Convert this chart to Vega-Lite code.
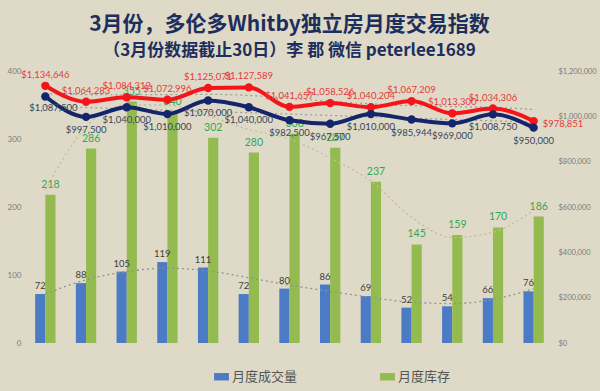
{
  "$schema": "https://vega.github.io/schema/vega-lite/v6.json",
  "width": 529,
  "height": 272,
  "autosize": "none",
  "padding": {"left": 25, "top": 71, "right": 46, "bottom": 48},
  "background": "#dedac7",
  "config": {"view": {"stroke": null}, "font": "Lato"},
  "title": {
    "text": "3月份，多伦多Whitby独立房月度交易指数",
    "subtitle": "（3月份数据截止30日）李 郡 微信 peterlee1689",
    "font": "Noto Sans CJK SC",
    "fontSize": 21,
    "fontWeight": "bold",
    "color": "#1d2e5c",
    "subtitleFont": "Noto Sans CJK SC",
    "subtitleFontSize": 17,
    "subtitleFontWeight": "bold",
    "subtitleColor": "#1d2e5c",
    "subtitlePadding": 8,
    "anchor": "middle",
    "offset": 8
  },
  "datasets": {
    "bars": [
      {"month": "Mar '25", "type": "月度成交量", "value": 72},
      {"month": "Mar '25", "type": "月度库存", "value": 218},
      {"month": "Apr '25", "type": "月度成交量", "value": 88},
      {"month": "Apr '25", "type": "月度库存", "value": 286},
      {"month": "May '25", "type": "月度成交量", "value": 105},
      {"month": "May '25", "type": "月度库存", "value": 355},
      {"month": "Jun '25", "type": "月度成交量", "value": 119},
      {"month": "Jun '25", "type": "月度库存", "value": 340},
      {"month": "Jul '25", "type": "月度成交量", "value": 111},
      {"month": "Jul '25", "type": "月度库存", "value": 302},
      {"month": "Aug '25", "type": "月度成交量", "value": 72},
      {"month": "Aug '25", "type": "月度库存", "value": 280},
      {"month": "Sep '25", "type": "月度成交量", "value": 80},
      {"month": "Sep '25", "type": "月度库存", "value": 308},
      {"month": "Oct '25", "type": "月度成交量", "value": 86},
      {"month": "Oct '25", "type": "月度库存", "value": 287},
      {"month": "Nov '25", "type": "月度成交量", "value": 69},
      {"month": "Nov '25", "type": "月度库存", "value": 237},
      {"month": "Dec '25", "type": "月度成交量", "value": 52},
      {"month": "Dec '25", "type": "月度库存", "value": 145},
      {"month": "Jan '26", "type": "月度成交量", "value": 54},
      {"month": "Jan '26", "type": "月度库存", "value": 159},
      {"month": "Feb '26", "type": "月度成交量", "value": 66},
      {"month": "Feb '26", "type": "月度库存", "value": 170},
      {"month": "Mar '26", "type": "月度成交量", "value": 76},
      {"month": "Mar '26", "type": "月度库存", "value": 186}
    ],
    "months": [
      {"month": "Mar '25", "avg": 1134646, "median": 1087500, "avgTrend": 1100000, "medTrend": 1045000, "salesTrend": 72, "invTrend": 225},
      {"month": "Apr '25", "avg": 1064283, "median": 997500, "avgTrend": 1096000, "medTrend": 1039000, "salesTrend": 93, "invTrend": 318},
      {"month": "May '25", "avg": 1084312, "median": 1040000, "avgTrend": 1095000, "medTrend": 1033000, "salesTrend": 105, "invTrend": 350},
      {"month": "Jun '25", "avg": 1072996, "median": 1010000, "avgTrend": 1096000, "medTrend": 1027000, "salesTrend": 110, "invTrend": 350},
      {"month": "Jul '25", "avg": 1125071, "median": 1070000, "avgTrend": 1097000, "medTrend": 1021000, "salesTrend": 106, "invTrend": 334},
      {"month": "Aug '25", "avg": 1127589, "median": 1040000, "avgTrend": 1092000, "medTrend": 1016000, "salesTrend": 96, "invTrend": 314},
      {"month": "Sep '25", "avg": 1041657, "median": 982500, "avgTrend": 1080000, "medTrend": 1010000, "salesTrend": 85, "invTrend": 300},
      {"month": "Oct '25", "avg": 1058526, "median": 967500, "avgTrend": 1066000, "medTrend": 1004000, "salesTrend": 76, "invTrend": 272},
      {"month": "Nov '25", "avg": 1040204, "median": 1010000, "avgTrend": 1055000, "medTrend": 998000, "salesTrend": 67, "invTrend": 238},
      {"month": "Dec '25", "avg": 1067209, "median": 985944, "avgTrend": 1047000, "medTrend": 992000, "salesTrend": 60, "invTrend": 185},
      {"month": "Jan '26", "avg": 1013300, "median": 969000, "avgTrend": 1043000, "medTrend": 986000, "salesTrend": 58, "invTrend": 155},
      {"month": "Feb '26", "avg": 1034306, "median": 1008750, "avgTrend": 1040000, "medTrend": 980000, "salesTrend": 64, "invTrend": 163},
      {"month": "Mar '26", "avg": 978851, "median": 950000, "avgTrend": 1030000, "medTrend": 975000, "salesTrend": 80, "invTrend": 195}
    ]
  },
  "resolve": {"scale": {"y": "independent"}},
  "layer": [
    {
      "layer": [
        {
          "data": {"name": "bars"},
          "mark": {"type": "bar"},
          "encoding": {
            "x": {
              "field": "month", "type": "nominal",
              "scale": {"domain": ["Mar '25","Apr '25","May '25","Jun '25","Jul '25","Aug '25","Sep '25","Oct '25","Nov '25","Dec '25","Jan '26","Feb '26","Mar '26"], "paddingInner": 0, "paddingOuter": 0},
              "axis": {"title": null, "labelAngle": 0, "labelFontSize": 11, "labelColor": "#333333", "labelFont": "Lato", "domain": false, "ticks": false, "labelPadding": 7}
            },
            "xOffset": {"field": "type", "type": "nominal", "scale": {"domain": ["月度成交量", "月度库存"], "paddingInner": 0, "paddingOuter": 1.04}},
            "y": {
              "field": "value", "type": "quantitative",
              "scale": {"domain": [0, 400], "nice": false},
              "axis": {"title": null, "orient": "left", "values": [0,50,100,150,200,250,300,350,400], "grid": false, "domain": false, "ticks": false, "labelFontSize": 8, "labelColor": "#7a7a7a", "labelPadding": 4}
            },
            "color": {
              "field": "type", "type": "nominal",
              "scale": {"domain": ["月度成交量", "月度库存"], "range": ["#4a7bc4", "#93bb50"]},
              "legend": {"title": null, "orient": "none", "legendX": 189, "legendY": 298, "direction": "horizontal", "symbolType": "M-1,-0.5H1V0.5H-1Z", "symbolSize": 220, "symbolStrokeWidth": 0, "labelFont": "Noto Sans CJK SC", "labelFontSize": 13, "labelColor": "#555555", "columnPadding": 82, "labelOffset": 3}
            }
          }
        },
        {
          "data": {"name": "months"},
          "mark": {"type": "line", "interpolate": "monotone", "strokeDash": [2, 3], "strokeWidth": 1.3, "color": "#c2bd95"},
          "encoding": {
            "x": {"field": "month", "type": "nominal"},
            "y": {"field": "invTrend", "type": "quantitative"}
          }
        },
        {
          "data": {"name": "months"},
          "mark": {"type": "line", "interpolate": "monotone", "strokeDash": [2, 3], "strokeWidth": 1.3, "color": "#8f9391"},
          "encoding": {
            "x": {"field": "month", "type": "nominal"},
            "y": {"field": "salesTrend", "type": "quantitative"}
          }
        },
        {
          "data": {"name": "bars"},
          "transform": [{"filter": "datum.type === '月度成交量'"}],
          "mark": {"type": "text", "dy": -8, "fontSize": 9.5, "color": "#404040"},
          "encoding": {
            "x": {"field": "month", "type": "nominal"},
            "xOffset": {"field": "type", "type": "nominal"},
            "y": {"field": "value", "type": "quantitative"},
            "text": {"field": "value", "type": "quantitative"}
          }
        },
        {
          "data": {"name": "bars"},
          "transform": [{"filter": "datum.type === '月度库存'"}],
          "mark": {"type": "text", "dy": -10, "fontSize": 10.5, "color": "#33a852"},
          "encoding": {
            "x": {"field": "month", "type": "nominal"},
            "xOffset": {"field": "type", "type": "nominal"},
            "y": {"field": "value", "type": "quantitative"},
            "text": {"field": "value", "type": "quantitative"}
          }
        }
      ]
    },
    {
      "data": {"name": "months"},
      "layer": [
        {
          "mark": {"type": "line", "interpolate": "monotone", "strokeDash": [2, 3], "strokeWidth": 1.2, "color": "#9a9a96"},
          "encoding": {
            "x": {"field": "month", "type": "nominal", "axis": null},
            "y": {"field": "avgTrend", "type": "quantitative", "scale": {"domain": [0, 1200000], "nice": false},
              "axis": {"title": null, "orient": "right", "values": [0,200000,400000,600000,800000,1000000,1200000], "format": "$,.0f", "grid": false, "domain": false, "ticks": false, "labelFontSize": 7.5, "labelColor": "#7a7a7a", "labelPadding": 4}}
          }
        },
        {
          "mark": {"type": "line", "interpolate": "monotone", "strokeDash": [2, 3], "strokeWidth": 1.2, "color": "#9a9a96"},
          "encoding": {
            "x": {"field": "month", "type": "nominal"},
            "y": {"field": "medTrend", "type": "quantitative"}
          }
        },
        {
          "mark": {"type": "line", "interpolate": "monotone", "strokeWidth": 4, "color": "#f5141a", "point": {"filled": true, "size": 70, "color": "#f5141a"}},
          "encoding": {
            "x": {"field": "month", "type": "nominal"},
            "y": {"field": "avg", "type": "quantitative"}
          }
        },
        {
          "mark": {"type": "line", "interpolate": "monotone", "strokeWidth": 4, "color": "#15256b", "point": {"filled": true, "size": 70, "color": "#15256b"}},
          "encoding": {
            "x": {"field": "month", "type": "nominal"},
            "y": {"field": "median", "type": "quantitative"}
          }
        },
        {
          "transform": [{"filter": "datum.month !== \"Mar '26\""}],
          "mark": {"type": "text", "dy": -11, "fontSize": 9.5, "color": "#e8383a"},
          "encoding": {
            "x": {"field": "month", "type": "nominal"},
            "y": {"field": "avg", "type": "quantitative"},
            "text": {"field": "avg", "type": "quantitative", "format": "$,.0f"}
          }
        },
        {
          "transform": [{"filter": "datum.month === \"Mar '26\""}],
          "mark": {"type": "text", "align": "left", "dx": 9, "dy": 3, "fontSize": 9.5, "color": "#e8383a"},
          "encoding": {
            "x": {"field": "month", "type": "nominal"},
            "y": {"field": "avg", "type": "quantitative"},
            "text": {"field": "avg", "type": "quantitative", "format": "$,.0f"}
          }
        },
        {
          "transform": [{"filter": "datum.month !== \"Mar '25\""}],
          "mark": {"type": "text", "dy": 13, "fontSize": 9.5, "color": "#37465a"},
          "encoding": {
            "x": {"field": "month", "type": "nominal"},
            "y": {"field": "median", "type": "quantitative"},
            "text": {"field": "median", "type": "quantitative", "format": "$,.0f"}
          }
        },
        {
          "transform": [{"filter": "datum.month === \"Mar '25\""}],
          "mark": {"type": "text", "dx": 8, "dy": 11, "fontSize": 9.5, "color": "#37465a"},
          "encoding": {
            "x": {"field": "month", "type": "nominal"},
            "y": {"field": "median", "type": "quantitative"},
            "text": {"field": "median", "type": "quantitative", "format": "$,.0f"}
          }
        }
      ]
    }
  ]
}
